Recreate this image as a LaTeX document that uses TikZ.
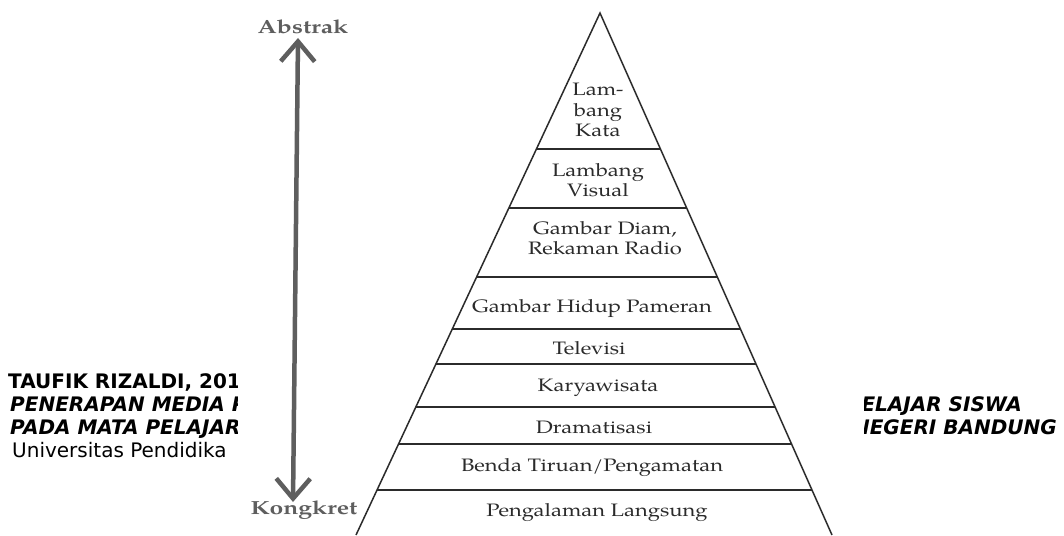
\documentclass[tikz,border=0pt]{standalone}
\usepackage{fontspec}
\newfontfamily\footfont{DejaVu Sans}
\newfontfamily\pagfont{texgyrepagella-regular.otf}[BoldFont=texgyrepagella-bold.otf]
\usetikzlibrary{arrows.meta}
\definecolor{ink}{HTML}{2B2B2B}
\definecolor{polegray}{HTML}{5E5E5E}
\tikzset{
  level/.style={
    text=ink,
    font=\pagfont\fontsize{18}{20.5}\selectfont,
    xscale=1.22,
    align=center,
    inner sep=0pt
  },
  pole/.style={text=polegray, font=\pagfont\bfseries\fontsize{19}{22}\selectfont, xscale=1.3, inner sep=0pt},
  side/.style={draw=ink, line width=1.5pt},
  rung/.style={draw=ink, line width=1.3pt},
  scalearrow/.style={
    polegray, line width=4.5pt,
    {Straight Barb[length=20pt, width=34pt, line width=4.5pt]}-{Straight Barb[length=20pt, width=34pt, line width=4.5pt]}
  },
  footbold/.style={font=\footfont\bfseries\fontsize{20}{22}\selectfont, anchor=base west, inner sep=0pt},
  footital/.style={font=\footfont\bfseries\itshape\fontsize{20}{22}\selectfont, anchor=base west, inner sep=0pt},
  footreg/.style={font=\footfont\fontsize{20}{22}\selectfont, anchor=base west, inner sep=0pt}
}

\begin{document}
\begin{tikzpicture}[x=1pt, y=-1pt]
  \useasboundingbox (0,0) rectangle (1064,535);

  % caption lines behind the scan
  \node[footbold] (author) at (8,388) {TAUFIK RIZALDI, 201};
  \node[footital] (titleA) at (10,411) {PENERAPAN MEDIA P};
  \node[footital] (titleB) at (10,434) {PADA MATA PELAJAR};
  \node[footreg] (univ) at (12,457) {Universitas Pendidika};
  \node[footital, anchor=base east] (titleAr) at (1022,411) {ELAJAR SISWA};
  \node[footital, anchor=base east] (titleBr) at (1057,434) {NEGERI BANDUNG};

  % the scanned page
  \fill[white] (238,0) rectangle (864,535);

  % cone
  \coordinate (apex) at (600,13);
  \coordinate (bl) at (356,535);
  \coordinate (br) at (832,535);
  \draw[side] (bl) -- (apex) -- (br);
  \foreach \y in {149,208,277,329,364,407,444,490}
    \draw[rung] (intersection of apex--bl and 0,\y--10,\y) -- (intersection of apex--br and 0,\y--10,\y);

  \node[level] (kata) at (598,110) {Lam-\\bang\\Kata};
  \node[level] (visual) at (598,180) {Lambang\\Visual};
  \node[level] (diam) at (605,238) {Gambar Diam,\\Rekaman Radio};
  \node[level] (hidup) at (592,308) {Gambar Hidup Pameran};
  \node[level] (tv) at (589,348) {Televisi};
  \node[level] (wisata) at (598,388) {Karyawisata};
  \node[level] (drama) at (594,427) {Dramatisasi};
  \node[level] (tiruan) at (592,468) {Benda Tiruan/Pengamatan};
  \node[level] (langsung) at (597,513) {Pengalaman Langsung};

  % abstract - concrete scale
  \node[pole] (abstrak) at (303,27) {Abstrak};
  \node[pole] (kongkret) at (304,510) {Kongkret};
  \coordinate (up) at (298,38);
  \coordinate (down) at (293,502);
  \draw[scalearrow] (down) -- (up);

\end{tikzpicture}
\end{document}
